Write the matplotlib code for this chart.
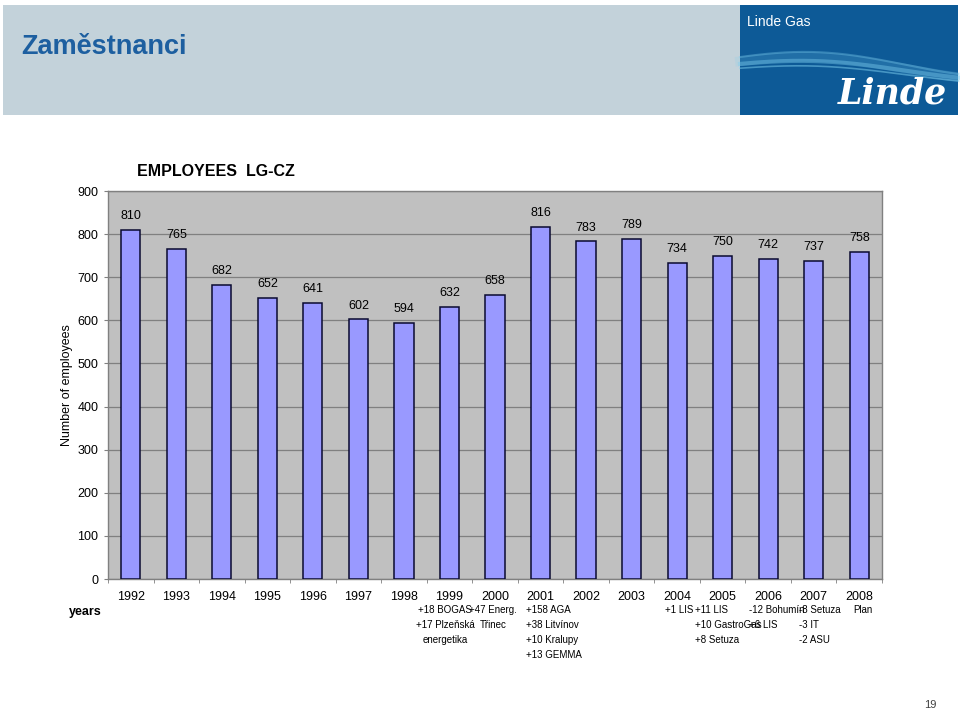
import numpy as np
import matplotlib
matplotlib.use("Agg")
import matplotlib.pyplot as plt
from matplotlib.patches import Rectangle
from matplotlib.lines import Line2D
import matplotlib.transforms as mtransforms

# ---------------- data ----------------
years = ["1992", "1993", "1994", "1995", "1996", "1997", "1998", "1999", "2000",
         "2001", "2002", "2003", "2004", "2005", "2006", "2007", "2008"]
employees = [810, 765, 682, 652, 641, 602, 594, 632, 658,
             816, 783, 789, 734, 750, 742, 737, 758]
y_ticks = [0, 100, 200, 300, 400, 500, 600, 700, 800, 900]

note_1999 = ["+18 BOGAS", "+17 Plzeňská", "energetika"]
note_2000 = ["+47 Energ.", "Třinec"]
note_2001 = ["+158 AGA", "+38 Litvínov", "+10 Kralupy", "+13 GEMMA"]
note_2004 = ["+1 LIS"]
note_2005 = ["+11 LIS", "+10 GastroGas", "+8 Setuza"]
note_2006 = ["-12 Bohumín", "+6 LIS"]
note_2007 = ["-8 Setuza", "-3 IT", "-2 ASU"]
note_2008 = ["Plan"]

title = "EMPLOYEES  LG-CZ"
slide_title = "Zaměstnanci"

# ---------------- figure ----------------
W, H = 960, 714
fig = plt.figure(figsize=(W / 100, H / 100), dpi=100)
fig.patch.set_facecolor("white")

def fx(px):
    return px / W

def fy(py):
    return 1 - py / H

SANS = ["Liberation Sans", "DejaVu Sans"]

# header band
fig.patches.append(Rectangle((fx(3), fy(115)), fx(740) - fx(3), fy(5) - fy(115),
                             transform=fig.transFigure, facecolor="#c3d2da",
                             edgecolor="none", zorder=0))
fig.patches.append(Rectangle((fx(740), fy(115)), fx(958) - fx(740), fy(5) - fy(115),
                             transform=fig.transFigure, facecolor="#0d5a97",
                             edgecolor="none", zorder=0))
# decorative wave in the logo box
t = np.linspace(0, 1, 200)
for a, off, lw, al in [(9, 64, 7, 0.18), (7, 66, 3, 0.4), (10, 60, 1.5, 0.35), (6, 70, 1.2, 0.5)]:
    xs = 740 + t * 218
    ys = off - a * np.sin(np.pi * t * 1.2 + 0.3) + 6 * t
    fig.add_artist(Line2D(fx(xs), fy(ys), transform=fig.transFigure,
                          color="#7fd0f0", lw=lw, alpha=al, zorder=1))

fig.text(fx(21), fy(47), slide_title, fontsize=19.5, fontweight="bold",
         color="#1d5fa0", ha="left", va="center", family=SANS)
fig.text(fx(747), fy(22), "Linde Gas", fontsize=10, color="white",
         ha="left", va="center", family=SANS)
fig.text(fx(892), fy(94), "Linde", fontsize=25, color="white", fontweight="bold",
         style="italic", ha="center", va="center", family=["DejaVu Serif"])
fig.text(fx(930), fy(705), "19", fontsize=8, color="#404040", ha="center", va="center",
         family=SANS)

# ---------------- axes ----------------
left, right, top, bottom = 108, 882, 191, 579
ax = fig.add_axes([fx(left), fy(bottom), fx(right) - fx(left), fy(top) - fy(bottom)])
ax.set_facecolor("#c0c0c0")

x = np.arange(len(years))
ax.bar(x, employees, width=0.42, color="#9999ff", edgecolor="#0a0a30", linewidth=1.1, zorder=3)

ax.set_xlim(-0.5, len(years) - 0.5)
ax.set_ylim(0, 900)
ax.set_yticks(y_ticks)
ax.set_yticklabels([str(v) for v in y_ticks], fontsize=9, family=SANS)
ax.yaxis.grid(True, color="#808080", linewidth=0.9, zorder=1)
ax.set_axisbelow(True)

ax.set_xticks(x)
ax.set_xticklabels(years, fontsize=9, family=SANS)
ax.tick_params(axis="x", which="major", length=0, pad=9)
ax.set_xticks(np.arange(-0.5, len(years)), minor=True)
ax.tick_params(axis="x", which="minor", length=3, color="#808080", direction="out")
ax.tick_params(axis="y", length=3, color="#808080", pad=4)

for s in ax.spines.values():
    s.set_color("#808080")
    s.set_linewidth(1)

# value labels
for xi, v in zip(x, employees):
    ax.annotate(str(v), (xi, v), xytext=(0, 10), textcoords="offset points",
                ha="center", va="center", fontsize=9, family=SANS)

# chart title
fig.text(fx(137), fy(172), title, fontsize=11.5, fontweight="bold", ha="left", va="center",
         family=SANS)

# axis labels
fig.text(fx(67), fy(385), "Number of employees", rotation=90, fontsize=9,
         ha="center", va="center", family=SANS)
fig.text(fx(85), fy(612), "years", fontsize=9, fontweight="bold",
         ha="center", va="center", family=SANS)

# notes beneath the years
trans = mtransforms.blended_transform_factory(ax.transData, fig.transFigure)
notes = [(7, note_1999, "center", -0.1), (8, note_2000, "center", -0.04),
         (9, note_2001, "left", -0.33), (12, note_2004, "center", 0.04),
         (13, note_2005, "left", -0.6), (14, note_2006, "left", -0.42),
         (15, note_2007, "left", -0.33), (16, note_2008, "center", 0.08)]
row_y = [610, 625, 640, 655]
for idx, lines, ha, dx in notes:
    for r, line in enumerate(lines):
        ax.text(idx + dx, fy(row_y[r]), line, transform=trans, ha=ha, va="center",
                fontsize=7, family=SANS, clip_on=False)

fig.savefig("out.png", dpi=100)
